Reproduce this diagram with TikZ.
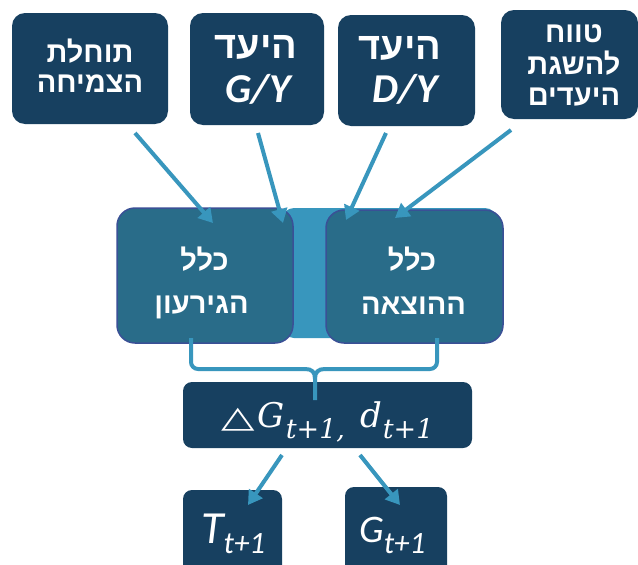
\documentclass[tikz,border=0pt]{standalone}
\usepackage{fontspec}
\usepackage{graphicx}
\setmainfont{Liberation Sans}
\newfontfamily\hebfont[Script=Hebrew]{Liberation Sans}
\newfontfamily\latfont{Carlito}
\newfontfamily\symfont{DejaVu Sans}
\newfontfamily\serfont{DejaVu Serif}
\TeXXeTstate=1
\usetikzlibrary{arrows.meta}
\definecolor{cnavy}{RGB}{23,64,96}
\definecolor{cmid}{RGB}{41,108,137}
\definecolor{cmidborder}{RGB}{58,80,150}
\definecolor{clight}{RGB}{56,150,189}
\tikzset{
  topbox/.style={fill=cnavy, rounded corners=13pt, inner sep=0pt, draw=none},
  midbox/.style={fill=cmid, draw=cmidborder, line width=1.5pt, rounded corners=18pt, inner sep=0pt},
  lowbox/.style={fill=cnavy, rounded corners=9pt, inner sep=0pt, draw=none},
  heb/.style={text=white, inner sep=0pt, anchor=base, font=\hebfont\bfseries\fontsize{29}{29}\selectfont},
  hebbig/.style={heb, font=\hebfont\bfseries\fontsize{38}{38}\selectfont},
  lat/.style={text=white, inner sep=0pt, anchor=base, font=\latfont\bfseries\itshape\fontsize{41}{41}\selectfont},
  mathtxt/.style={text=white, inner sep=0pt, anchor=base west},
  arr/.style={draw=clight, line width=4pt, -{Triangle[length=14pt,width=16pt]}},
  braceline/.style={draw=clight, line width=4pt},
}
\newcommand{\serbig}[1]{{\serfont\itshape\fontsize{34}{34}\selectfont #1}}
\newcommand{\sersub}[1]{\raisebox{-11pt}{\serfont\itshape\fontsize{27}{27}\selectfont #1}}
\newcommand{\subit}[2]{\raisebox{-#1}{\latfont\itshape\fontsize{31}{31}\selectfont #2}}
\begin{document}
\begin{tikzpicture}[x=1pt,y=-1pt]
\path[use as bounding box] (0,0) rectangle (638,565);
\path[clip] (0,0) rectangle (638,565);
\fill[white] (0,0) rectangle (638,565);

% top boxes
\node[topbox, minimum width=156pt, minimum height=111pt] (b1) at (90,68.5) {};
\node[topbox, minimum width=134pt, minimum height=112pt] (b2) at (257,69) {};
\node[topbox, minimum width=137pt, minimum height=111pt] (b3) at (406.5,70.5) {};
\node[topbox, minimum width=137pt, minimum height=109pt] (b4) at (569.5,64.5) {};

\node[heb] (t1a) at (90,62) {\beginR תוחלת\endR};
\node[heb] (t1b) at (90,92) {\beginR הצמיחה\endR};
\node[hebbig] (t2a) at (256,58) {\beginR היעד\endR};
\node[lat] (t2b) at (258,102) {G/Y};
\node[hebbig] (t3a) at (400,59) {\beginR היעד\endR};
\node[lat] (t3b) at (405,102) {D/Y};
\node[heb] (t4a) at (574,42) {\beginR טווח\endR};
\node[heb] (t4b) at (574,74) {\beginR להשגת\endR};
\node[heb] (t4c) at (574,105) {\beginR היעדים\endR};

% middle band and boxes
\fill[clight, rounded corners=12pt] (282,208) rectangle (497,338);
\node[midbox, minimum width=176pt, minimum height=135pt] (ml) at (205,275.5) {};
\node[midbox, minimum width=177pt, minimum height=133pt] (mr) at (414.5,276.5) {};
\node[heb] (m1a) at (204.5,270) {\beginR כלל\endR};
\node[heb] (m1b) at (201.5,313) {\beginR הגירעון\endR};
\node[heb] (m2a) at (412,270) {\beginR כלל\endR};
\node[heb] (m2b) at (413.5,314) {\beginR ההוצאה\endR};

% arrows from top boxes
\coordinate (a1s) at (135,133); \coordinate (a1e) at (213,223);
\coordinate (a2s) at (258,133); \coordinate (a2e) at (283,223);
\coordinate (a3s) at (386,133); \coordinate (a3e) at (346,220);
\coordinate (a4s) at (511,130); \coordinate (a4e) at (395,218);
\draw[arr] (a1s) -- (a1e);
\draw[arr] (a2s) -- (a2e);
\draw[arr] (a3s) -- (a3e);
\draw[arr] (a4s) -- (a4e);

% lower boxes
\node[lowbox, minimum width=289pt, minimum height=66pt] (dg) at (327.5,415) {};
\node[lowbox, minimum width=99pt, minimum height=90pt] (tb) at (232.5,535) {};
\node[lowbox, minimum width=102pt, minimum height=93pt] (gb) at (396,533.5) {};

% brace
\coordinate (brL) at (191,338);
\coordinate (brR) at (437,338);
\coordinate (brM) at (315,400);
\draw[braceline, rounded corners=7pt] (brL) -- (191,369) -- (305,369);
\draw[braceline] (305,369) .. controls (312,369) and (315,372) .. (315,379) -- (brM);
\draw[braceline, rounded corners=7pt] (brR) -- (437,369) -- (325,369);
\draw[braceline] (325,369) .. controls (318,369) and (315,372) .. (315,379);

\node[mathtxt] (dgt) at (221,427) {{\symfont\fontsize{30}{30}\selectfont\scalebox{1.45}[1.0]{△}}\hspace{3pt}\serbig{G}\hspace{1pt}\sersub{t+1,}\hspace{15pt}\serbig{d}\hspace{1pt}\sersub{t+1}};

% arrows to bottom boxes
\coordinate (b5s) at (282,455); \coordinate (b5e) at (248,505);
\coordinate (b6s) at (360,455); \coordinate (b6e) at (400,505);
\draw[arr] (b5s) -- (b5e);
\draw[arr] (b6s) -- (b6e);

\node[mathtxt] (tt) at (201,543) {{\latfont\itshape\fontsize{46}{46}\selectfont T}\subit{10pt}{t+1}};
\node[mathtxt] (gt) at (359,542) {{\latfont\itshape\fontsize{39}{39}\selectfont G}\subit{11pt}{t+1}};
\end{tikzpicture}
\end{document}
